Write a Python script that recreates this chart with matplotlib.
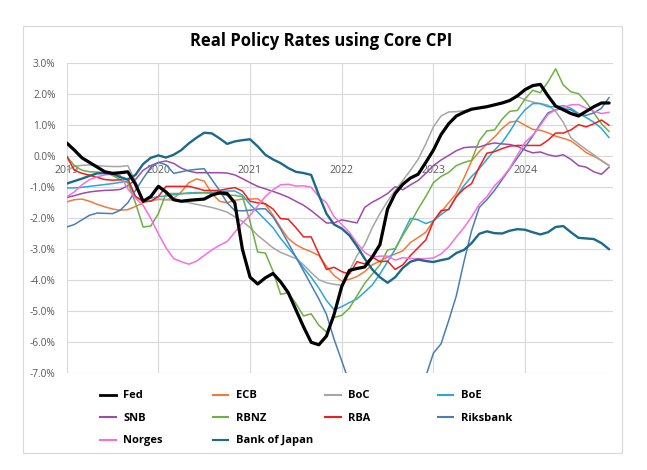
import matplotlib
matplotlib.use("Agg")
import matplotlib.pyplot as plt
from matplotlib.patches import Rectangle
from matplotlib.lines import Line2D
import numpy as np

plt.rcParams['font.family'] = ['Open Sans', 'DejaVu Sans']

# ---------------- data (monthly, Jan 2019 .. Dec 2024) ----------------
years = ["2019", "2020", "2021", "2022", "2023", "2024"]

fed = [0.43, 0.2, -0.05, -0.2, -0.35, -0.5, -0.55, -0.53, -0.5, -0.9, -1.45, -1.3,
       -0.97, -1.15, -1.4, -1.45, -1.42, -1.4, -1.38, -1.25, -1.18, -1.2, -1.5, -3.0,
       -3.9, -4.12, -3.92, -3.78, -4.05, -4.4, -4.95, -5.5, -6.0, -6.08, -5.8, -5.1,
       -4.2, -3.68, -3.62, -3.57, -3.25, -2.85, -1.7, -1.2, -0.9, -0.7, -0.58, -0.2,
       0.2, 0.7, 1.05, 1.3, 1.42, 1.52, 1.56, 1.6, 1.66, 1.72, 1.8, 1.95,
       2.15, 2.28, 2.32, 1.95, 1.62, 1.5, 1.38, 1.3, 1.45, 1.6, 1.72, 1.72]

ecb = [-1.47, -1.4, -1.38, -1.45, -1.55, -1.63, -1.7, -1.74, -1.72, -1.62, -1.5, -1.43,
       -1.39, -1.4, -1.35, -1.15, -0.85, -0.73, -0.8, -1.2, -1.45, -1.5, -1.42, -1.38,
       -1.38, -1.37, -1.55, -1.9, -2.3, -2.65, -2.85, -2.98, -3.08, -3.2, -3.55, -3.85,
       -4.02, -3.97, -3.88, -3.72, -3.5, -3.38, -3.25, -3.15, -3.05, -2.78, -2.62, -2.45,
       -2.08, -1.8, -1.5, -1.2, -0.7, -0.15, 0.15, 0.4, 0.62, 0.9, 1.1, 1.14,
       1.0, 0.87, 0.84, 0.76, 0.65, 0.58, 0.5, 0.32, 0.12, 0.0, -0.13, -0.3]

boc = [-0.45, -0.33, -0.29, -0.28, -0.3, -0.32, -0.33, -0.33, -0.3, -0.8, -1.45, -1.45,
       -1.38, -1.4, -1.42, -1.45, -1.5, -1.55, -1.6, -1.65, -1.72, -1.8, -1.95, -2.1,
       -2.3, -2.55, -2.75, -2.95, -3.1, -3.2, -3.3, -3.5, -3.75, -3.98, -4.08, -4.13,
       -4.16, -3.7, -3.2, -2.85, -2.3, -1.85, -1.45, -1.1, -0.78, -0.45, -0.1, 0.4,
       0.95, 1.3, 1.43, 1.44, 1.47, 1.52, 1.56, 1.6, 1.66, 1.72, 1.8, 1.93,
       1.82, 1.75, 1.7, 1.65, 1.45, 1.1, 0.6, 0.4, 0.22, 0.05, -0.15, -0.3]

boe = [-1.02, -1.02, -1.0, -0.97, -0.94, -0.91, -0.88, -0.84, -0.8, -1.3, -1.44, -1.35,
       -1.3, -1.28, -1.24, -1.21, -1.18, -1.17, -1.17, -1.16, -1.14, -1.12, -1.12, -1.25,
       -1.55, -1.8, -2.05, -2.3, -2.65, -2.95, -3.25, -3.6, -3.9, -4.25, -4.65, -4.95,
       -4.85, -4.72, -4.6, -4.38, -4.15, -3.8, -3.4, -3.0, -2.5, -2.0, -2.05, -2.17,
       -2.08, -1.88, -1.7, -1.3, -0.95, -0.65, -0.4, -0.1, 0.2, 0.45, 0.8, 1.2,
       1.5, 1.7, 1.7, 1.6, 1.6, 1.63, 1.55, 1.38, 1.25, 1.1, 0.9, 0.6]

snb = [-1.33, -1.27, -1.2, -1.15, -1.12, -1.1, -1.09, -1.07, -0.95, -0.75, -0.45, -0.3,
       -0.2, -0.15, -0.23, -0.38, -0.48, -0.53, -0.53, -0.53, -0.53, -0.54, -0.6, -0.72,
       -0.85, -0.97, -1.05, -1.13, -1.22, -1.32, -1.45, -1.58, -1.75, -1.95, -2.15, -2.15,
       -2.05, -2.1, -2.15, -1.65, -1.48, -1.35, -1.2, -0.98, -1.08, -0.92, -0.78, -0.55,
       -0.3, -0.12, 0.03, 0.18, 0.28, 0.3, 0.3, 0.38, 0.43, 0.4, 0.38, 0.32,
       0.2, 0.11, 0.14, 0.05, 0.0, 0.05, -0.1, -0.3, -0.35, -0.5, -0.58, -0.35]

rbnz = [0.0, -0.3, -0.45, -0.5, -0.51, -0.52, -0.62, -0.75, -0.85, -1.5, -2.28, -2.25,
        -1.85, -1.2, -1.2, -1.2, -1.2, -1.19, -1.18, -1.2, -1.22, -1.26, -1.26, -1.3,
        -2.1, -3.09, -3.12, -3.7, -4.45, -4.4, -4.75, -5.15, -5.08, -5.45, -5.67, -5.2,
        -5.13, -4.9, -4.5, -4.1, -3.8, -3.5, -3.02, -2.98, -2.55, -2.15, -1.7, -1.3,
        -0.85, -0.65, -0.52, -0.3, -0.2, -0.13, 0.5, 0.82, 0.85, 1.2, 1.45, 1.48,
        1.85, 2.13, 2.05, 2.4, 2.82, 2.3, 2.08, 2.02, 1.75, 1.4, 1.05, 0.8]

rba = [0.0, -0.45, -0.55, -0.61, -0.68, -0.75, -0.77, -0.76, -0.72, -1.3, -1.45, -1.45,
       -1.3, -0.97, -0.97, -0.97, -0.97, -1.03, -1.1, -1.1, -1.1, -1.05, -1.01, -1.12,
       -1.45, -1.5, -1.53, -1.7, -2.01, -2.03, -2.3, -2.6, -2.6, -3.14, -3.65, -3.58,
       -3.72, -3.8, -3.4, -3.47, -3.25, -3.4, -3.38, -3.65, -3.5, -3.2, -2.95, -2.7,
       -2.1, -1.75, -1.72, -1.3, -1.05, -0.88, -0.35, 0.1, 0.15, 0.25, 0.33, 0.35,
       0.35, 0.35, 0.35, 0.52, 0.75, 0.75, 0.85, 1.02, 0.95, 1.05, 1.17, 1.0]

riksbank = [-2.28, -2.2, -2.05, -1.9, -1.83, -1.84, -1.85, -1.74, -1.5, -1.1, -0.72, -0.36,
            -0.2, -0.27, -0.55, -0.5, -0.45, -0.42, -0.4, -0.75, -1.1, -1.5, -1.75, -1.76,
            -1.74, -1.7, -1.69, -1.95, -2.35, -2.8, -3.25, -3.7, -4.15, -4.6, -5.1, -5.9,
            -6.6, -7.3, -7.8, -8.2, -8.4, -8.5, -8.3, -8.0, -7.7, -7.4, -7.2, -7.1,
            -6.35, -6.05, -5.3, -4.5, -3.4, -2.4, -1.65, -1.4, -1.1, -0.75, -0.4, -0.05,
            0.3, 0.65, 1.05, 1.4, 1.5, 1.54, 1.5, 1.35, 1.32, 1.4, 1.55, 1.9]

norges = [-1.31, -1.15, -0.92, -0.75, -0.66, -0.6, -0.57, -0.62, -1.05, -1.35, -1.58, -2.0,
          -2.5, -2.95, -3.3, -3.4, -3.48, -3.38, -3.2, -3.02, -2.87, -2.75, -2.45, -2.15,
          -1.9, -1.6, -1.3, -1.08, -0.92, -0.9, -0.96, -0.95, -1.0, -1.3, -1.5, -1.95,
          -2.2, -2.45, -2.8, -3.1, -3.25, -3.22, -3.22, -3.35, -3.27, -3.3, -3.3, -3.3,
          -3.28, -3.15, -2.92, -2.6, -2.3, -1.95, -1.55, -1.3, -0.95, -0.7, -0.38, 0.05,
          0.45, 0.68, 1.0, 1.35, 1.5, 1.58, 1.66, 1.67, 1.55, 1.45, 1.38, 1.42]

boj = [-0.88, -0.8, -0.72, -0.63, -0.55, -0.54, -0.56, -0.67, -0.75, -0.6, -0.25, -0.05,
       0.03, -0.04, 0.05, 0.2, 0.42, 0.6, 0.76, 0.74, 0.58, 0.4, 0.48, 0.52,
       0.55, 0.32, 0.05, -0.1, -0.22, -0.38, -0.5, -0.54, -0.6, -1.25, -1.85, -2.2,
       -2.33, -2.55, -2.9, -3.3, -3.65, -3.9, -4.08, -3.9, -3.6, -3.4, -3.33, -3.38,
       -3.41, -3.35, -3.3, -3.12, -3.02, -2.8, -2.5, -2.42, -2.48, -2.49, -2.4, -2.35,
       -2.37, -2.45, -2.52, -2.45, -2.28, -2.25, -2.45, -2.63, -2.65, -2.67, -2.8, -3.0]

names = ["Fed", "ECB", "BoC", "BoE", "SNB", "RBNZ", "RBA", "Riksbank", "Norges", "Bank of Japan"]
series = [fed, ecb, boc, boe, snb, rbnz, rba, riksbank, norges, boj]
colors = ["#000000", "#F07A3A", "#A6A6A6", "#2BA6DE", "#A04AAA", "#6DB043",
          "#F01E1E", "#4A7DB6", "#F86EDD", "#1C6A8A"]
widths = [2.3, 1.1, 1.1, 1.1, 1.1, 1.1, 1.1, 1.1, 1.1, 1.7]
zorders = [10, 3, 3, 3, 3, 3, 3, 3, 3, 4]

W, H = 647, 470
fig = plt.figure(figsize=(W / 100, H / 100), dpi=100)
fig.patch.set_facecolor("white")

# outer chart border
fig.add_artist(Rectangle((23 / W, 1 - 453 / H), (622 - 23) / W, (453 - 26) / H,
                         transform=fig.transFigure, fill=False, ec="#D9D9D9", lw=0.8))

left, right, top, bottom = 66.7, 612.7, 63.3, 373.3
ax = fig.add_axes([left / W, 1 - bottom / H, (right - left) / W, (bottom - top) / H])

x = np.arange(len(fed))
for name, ys, c, lw, z in zip(names, series, colors, widths, zorders):
    ax.plot(x, ys, color=c, lw=lw, zorder=z, solid_joinstyle="round",
            solid_capstyle="round", label=name)

ax.set_ylim(-7, 3)
ax.set_xlim(0, 71.47)
ax.set_yticks(np.arange(-7, 4, 1))
ax.set_yticklabels([f"{v:.1f}%" for v in np.arange(-7, 4, 1)])
ax.set_xticks(np.arange(0, 72, 12))
ax.set_xticklabels(years)

ax.grid(True, color="#D9D9D9", lw=0.8, zorder=0)
ax.set_axisbelow(True)
for s in ["top", "right", "left"]:
    ax.spines[s].set_visible(False)
ax.spines["bottom"].set_position(("data", 0))
ax.spines["bottom"].set_visible(False)
ax.tick_params(axis="x", length=0, pad=6.5, labelsize=7.6, labelcolor="#595959")
ax.tick_params(axis="y", length=0, pad=8, labelsize=7.3, labelcolor="#595959")

fig.text(0.497, 1 - 41 / H, "Real Policy Rates using Core CPI", ha="center", va="center",
         fontsize=12, fontweight="bold", color="#000000")

# legend: 4 columns, row-wise order as in Excel
col_x = [100, 212.7, 325, 437.7]
cols = [[0, 4, 8], [1, 5, 9], [2, 6], [3, 7]]
for cx, idxs in zip(col_x, cols):
    handles = [Line2D([0], [0], color=colors[i], lw=2.0 if i == 0 else 1.5) for i in idxs]
    fig.legend(handles, [names[i] for i in idxs], loc="upper left",
               bbox_to_anchor=(cx / W, 1 - 390.5 / H), frameon=False,
               borderpad=0, borderaxespad=0, handlelength=1.4, handletextpad=0.7,
               labelspacing=1.03, prop={"weight": "bold", "size": 8})

fig.savefig("out.png", dpi=100)
